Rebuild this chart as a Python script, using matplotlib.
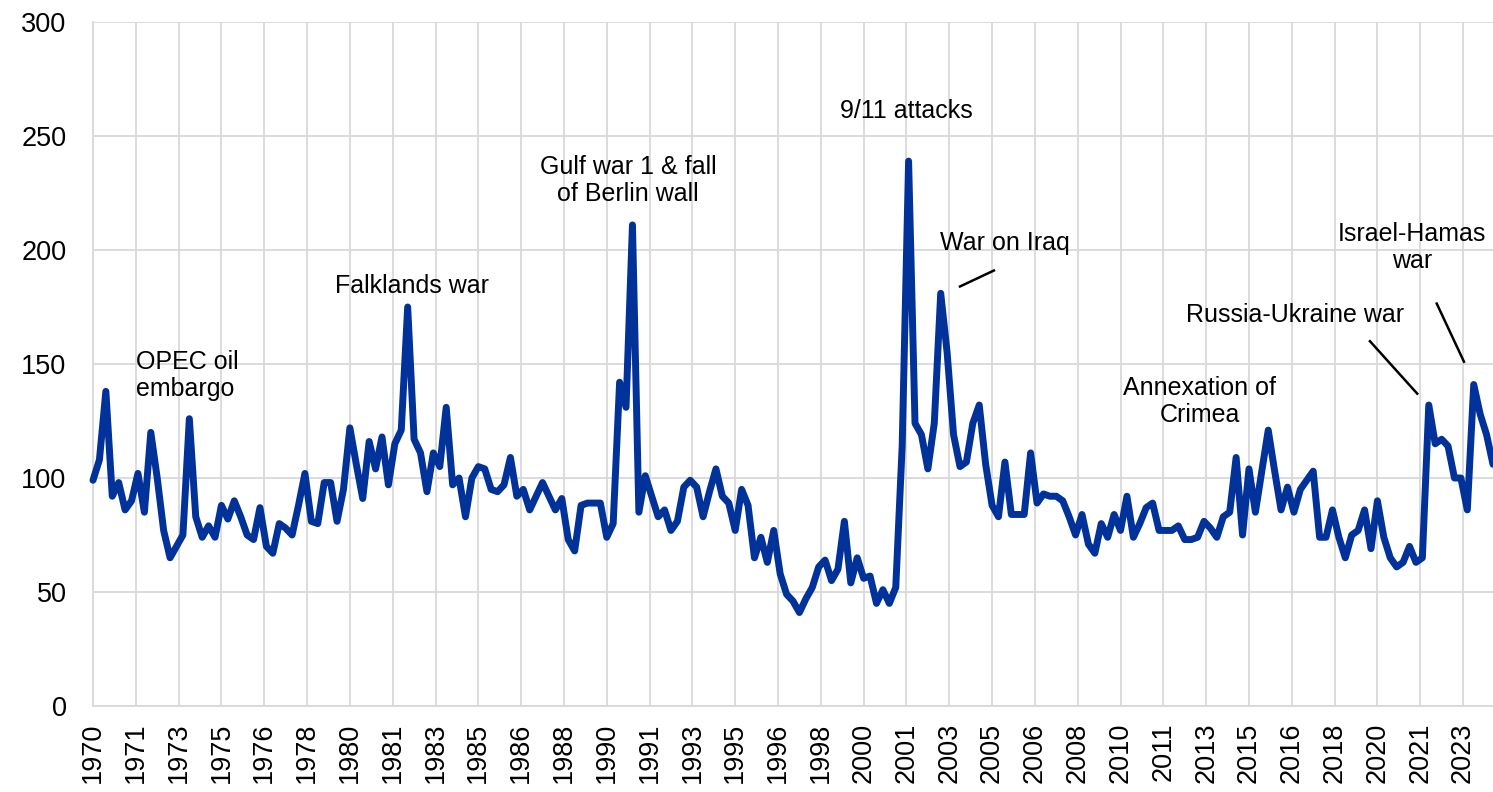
import numpy as np
import matplotlib.pyplot as plt

# Quarterly index values, 1970Q1 onwards
idx_1970s = [99, 108, 138, 92, 98, 86, 90, 102, 85, 120,
             100, 77, 65, 70, 75, 126, 83, 74, 79, 74,
             88, 82, 90, 83, 75, 73, 87, 70, 67, 80,
             78, 75, 88, 102, 81, 80, 98, 98, 81, 95]
idx_1980s = [122, 106, 91, 116, 104, 118, 97, 115, 121, 175,
             117, 111, 94, 111, 105, 131, 97, 100, 83, 100,
             105, 104, 95, 94, 97, 109, 92, 95, 86, 92,
             98, 92, 86, 91, 73, 68, 88, 89, 89, 89]
idx_1990s = [74, 80, 142, 131, 211, 85, 101, 92, 83, 86,
             77, 81, 96, 99, 96, 83, 94, 104, 92, 89,
             77, 95, 88, 65, 74, 63, 77, 58, 49, 46,
             41, 47, 52, 61, 64, 55, 60, 81, 54, 65]
idx_2000s = [56, 57, 45, 51, 45, 52, 114, 239, 124, 119,
             104, 124, 181, 155, 119, 105, 107, 124, 132, 106,
             88, 83, 107, 84, 84, 84, 111, 89, 93, 92,
             92, 90, 83, 75, 84, 71, 67, 80, 74, 84]
idx_2010s = [77, 92, 74, 80, 87, 89, 77, 77, 77, 79,
             73, 73, 74, 81, 78, 74, 83, 85, 109, 75,
             104, 85, 103, 121, 103, 86, 96, 85, 95, 99,
             103, 74, 74, 86, 74, 65, 75, 77, 86, 69]
idx_2020s = [90, 74, 65, 61, 63, 70, 63, 65, 132, 115,
             117, 114, 100, 100, 86, 141, 128, 119, 106]

start_year = 1970

# Event annotations: (text, x in years, y value, alignment)
events = [
    ("OPEC oil\nembargo", 1971.67, 145, "left"),
    ("Falklands war", 1982.42, 184, "center"),
    ("Gulf war 1 & fall\nof Berlin wall", 1990.83, 230.5, "center"),
    ("9/11 attacks", 2001.65, 261, "center"),
    ("War on Iraq", 2005.48, 203, "center"),
    ("Annexation of\nCrimea", 2013.09, 133.5, "center"),
    ("Russia-Ukraine war", 2016.81, 171.5, "center"),
    ("Israel-Hamas\nwar", 2021.34, 201, "center"),
]

# Leader lines: ((x0, x1), (y0, y1))
leaders = [
    ((2003.75, 2005.07), (184, 191)),
    ((2019.71, 2021.55), (160, 137)),
    ((2022.31, 2023.37), (176.5, 151)),
]

values = np.array(idx_1970s + idx_1980s + idx_1990s + idx_2000s + idx_2010s + idx_2020s)
t = start_year + np.arange(len(values)) / 4.0

plt.rcParams['font.family'] = ['Liberation Sans', 'DejaVu Sans']

fig = plt.figure(figsize=(14.93, 7.92), dpi=100)
ax = fig.add_axes([93 / 1493, 1 - 706 / 792, 1 - 93 / 1493, (706 - 22) / 792])

ax.plot(t, values, color='#003299', lw=5.0, solid_joinstyle='round',
        solid_capstyle='round', zorder=3, clip_on=False)

# x ticks every 20 months, labelled with the year
tick_pos = start_year + np.arange(0, 33) * 5 / 3
tick_lab = [str(int(np.floor(p + 1e-9))) for p in tick_pos]
ax.set_xticks(tick_pos)
ax.set_xticklabels(tick_lab, rotation=90, fontsize=19.5)
ax.set_xlim(t[0], t[-1])

ax.set_ylim(0, 300)
ax.set_yticks(np.arange(0, 301, 50))
ax.tick_params(axis='y', labelsize=19.5, length=0, pad=19)
ax.tick_params(axis='x', length=0, pad=12)

ax.grid(True, color='#d9d9d9', lw=1.3)
ax.set_axisbelow(True)
for side in ['top', 'right']:
    ax.spines[side].set_visible(False)
for side in ['left', 'bottom']:
    ax.spines[side].set_color('#d9d9d9')
    ax.spines[side].set_linewidth(1.3)

for txt, x, y, ha in events:
    ax.text(x, y, txt, fontsize=18, ha=ha, va='center', multialignment=ha,
            linespacing=1.15, zorder=4)

for xs, ys in leaders:
    ax.plot(xs, ys, color='black', lw=1.8, zorder=4)

fig.savefig('out.png', dpi=100)
